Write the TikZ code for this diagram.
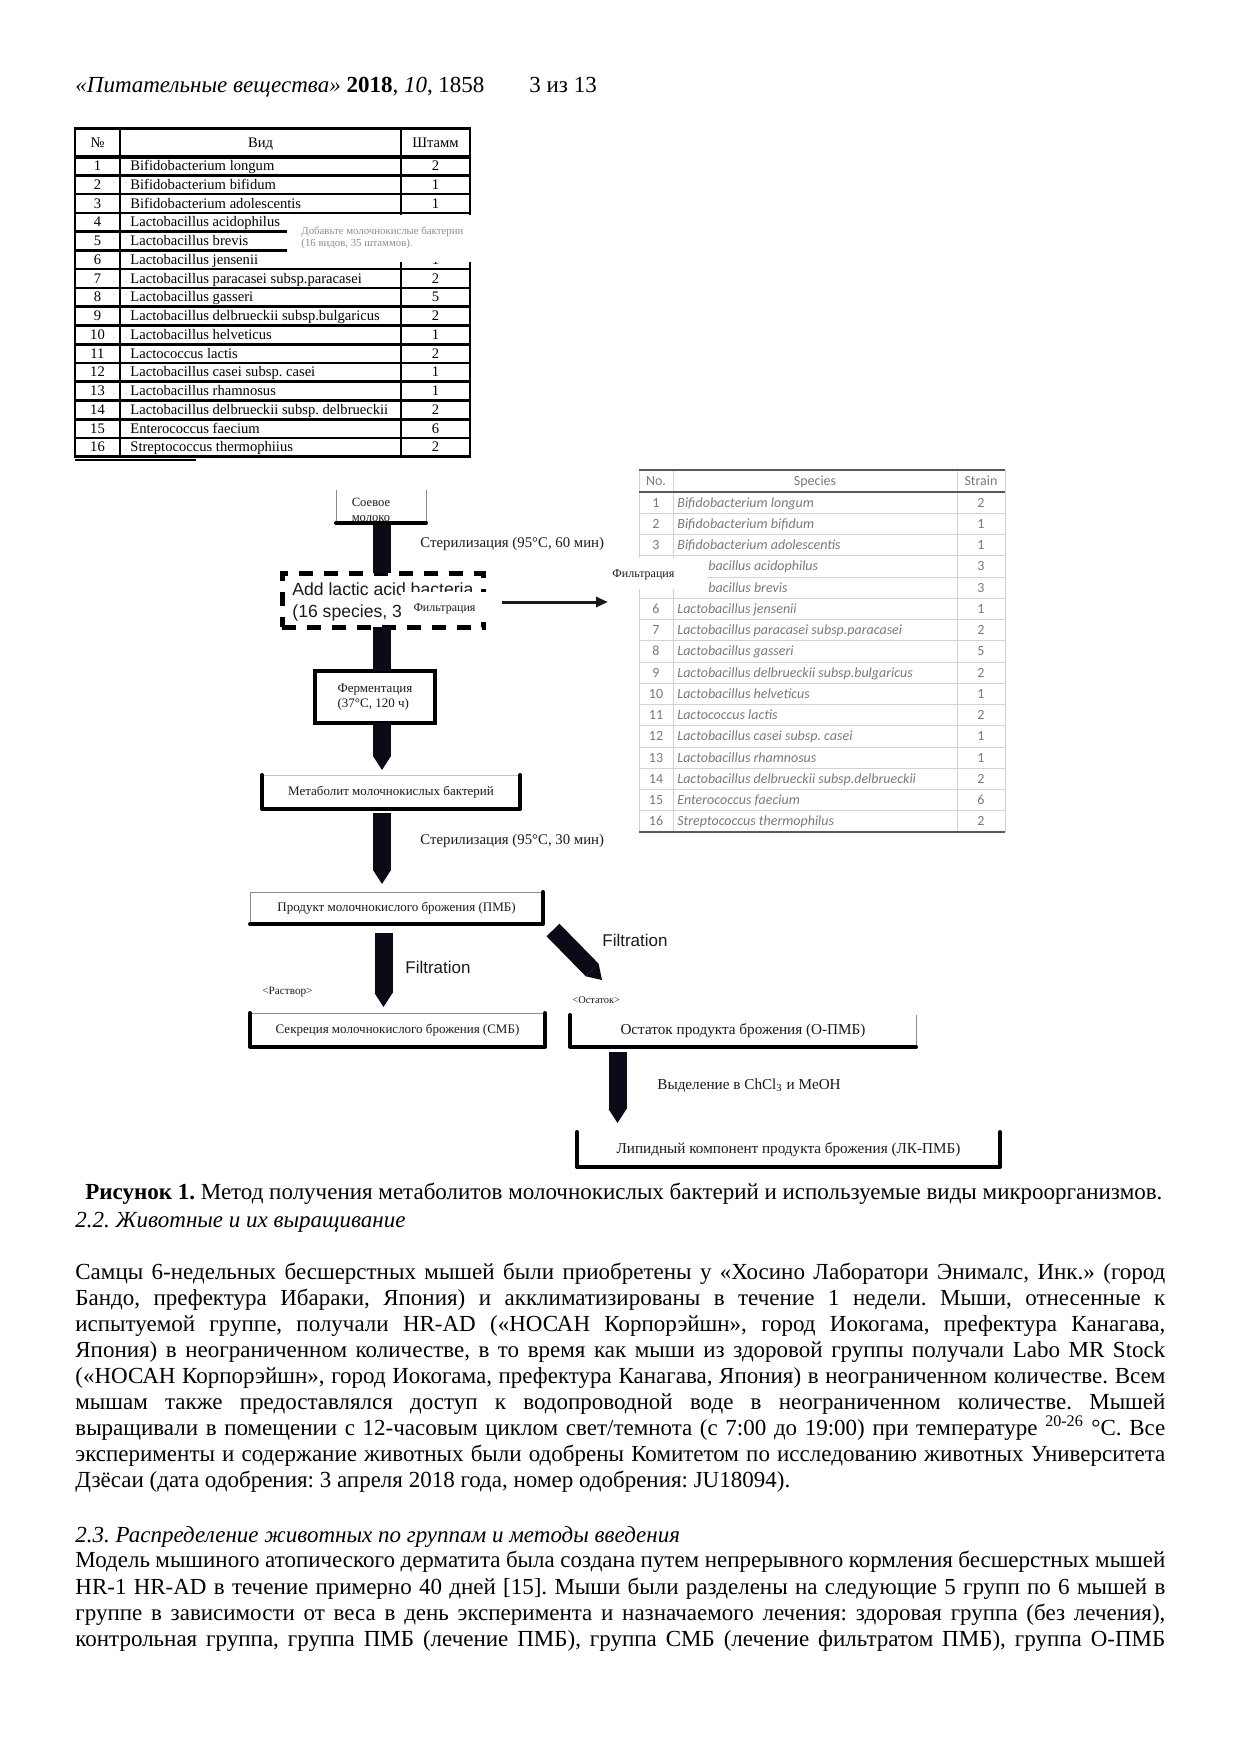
\documentclass[tikz,border=0pt]{standalone}
\usepackage{fontspec}
\setmainfont{Liberation Serif}
\setsansfont{Liberation Sans}
\newfontfamily\calibri{Carlito}
\usepackage{tikz}
\usetikzlibrary{arrows.meta,calc}
\definecolor{inkblk}{HTML}{1A1A1A}
\definecolor{shaftblk}{HTML}{0B0B18}
\definecolor{boxgrey}{HTML}{8A8A8A}
\definecolor{tblgrey}{HTML}{7A7A7A}
\definecolor{tblline}{HTML}{D2D2D2}
\definecolor{tbldark}{HTML}{5A5A5A}
\definecolor{fadetxt}{HTML}{8E8E8E}
\frenchspacing

\begin{document}
\begin{tikzpicture}[x=0.5pt,y=-0.5pt,
  hdtxt/.style={anchor=mid west, inner sep=0pt, font=\fontsize{11.5}{14}\selectfont},
  bodytxt/.style={anchor=mid west, inner sep=0pt, font=\fontsize{11.5}{13}\selectfont},
  cellt/.style={anchor=mid, inner sep=0pt, font=\fontsize{7.3}{8}\selectfont},
  cellr/.style={anchor=mid, inner sep=0pt, text=tblgrey, font=\calibri\fontsize{7}{8}\selectfont},
  tline/.style={line width=1.3pt},
  rline/.style={tblline, line width=0.5pt},
  rdark/.style={tbldark, line width=0.9pt},
  stagebox/.style={rectangle, inner sep=0pt, outer sep=0pt, text=inkblk, font=\fontsize{6.5}{7.5}\selectfont},
  bigbox/.style={stagebox, font=\fontsize{7.6}{9}\selectfont},
  thk/.style={line width=2pt, line cap=round, line join=round},
  thn/.style={line width=0.5pt, boxgrey},
  blk/.style={shaftblk, line width=9pt},
  blkarr/.style={shaftblk, line width=9pt, -{Triangle[length=7pt,width=9pt,line width=0pt]}},
  lbl/.style={anchor=mid west, inner sep=0pt, text=inkblk, font=\fontsize{7.4}{9}\selectfont},
  tinylbl/.style={anchor=mid west, inner sep=0pt, text=inkblk, font=\fontsize{5.6}{7}\selectfont},
  sanslbl/.style={anchor=mid west, inner sep=0pt, text=inkblk, font=\sffamily\fontsize{8.5}{10}\selectfont},
]
\useasboundingbox (0,0) rectangle (1242,1755);
\fill[white] (0,0) rectangle (1242,1755);

% running head
\node[hdtxt] (head) at (75,88) {\textit{«Питательные вещества»} \textbf{2018}, \textit{10}, 1858};
\node[hdtxt] (pg) at (529,88) {3 из 13};

% species table (Russian copy)
\draw[tline] (75,128.3) rectangle (470,456.7);
\foreach \r in {1,...,15}
  \draw[tline] (75,{156.7+\r*18.75}) -- (470,{156.7+\r*18.75});
\draw[line width=2pt] (75,156.7) -- (470,156.7);
\draw[tline] (120,128.3) -- (120,456.7);
\draw[tline] (401,128.3) -- (401,456.7);
\draw[line width=1pt] (75,459.5) -- (196,459.5);
\node[cellt] (thn) at (97.5,142.5) {№};
\node[cellt] (ths) at (260.5,142.5) {Вид};
\node[cellt] (thv) at (435.5,142.5) {Штамм};
\foreach \n/\sp/\st in {1/Bifidobacterium longum/2, 2/Bifidobacterium bifidum/1,
    3/Bifidobacterium adolescentis/1, 4/Lactobacillus acidophilus/{}, 5/Lactobacillus brevis/{},
    6/Lactobacillus jensenii/1, 7/Lactobacillus paracasei subsp.paracasei/2,
    8/Lactobacillus gasseri/5, 9/Lactobacillus delbrueckii subsp.bulgaricus/2,
    10/Lactobacillus helveticus/1, 11/Lactococcus lactis/2, 12/Lactobacillus casei subsp. casei/1,
    13/Lactobacillus rhamnosus/1, 14/Lactobacillus delbrueckii subsp. delbrueckii/2,
    15/Enterococcus faecium/6, 16/Streptococcus thermophiius/2}{
  \node[cellt] (tn\n) at (97.5,{156.7+(\n-0.5)*18.75}) {\n};
  \node[cellt, anchor=mid west] (ts\n) at (130,{156.7+(\n-0.5)*18.75}) {\sp};
  \node[cellt] (tv\n) at (435.5,{156.7+(\n-0.5)*18.75}) {\st};
}
% pasted note over rows 4-6
\fill[white] (287,215.5) rectangle (477,262);
\node[anchor=north west, inner sep=0pt, align=left, text=fadetxt,
  font=\fontsize{5.4}{6}\selectfont] (tnote) at (301,226) {Добавьте молочнокислые бактерии\\(16 видов, 35 штаммов).};

% species table (original)
\foreach \r in {1,...,15}
  \draw[rline] (639,{492+\r*21.25}) -- (1005,{492+\r*21.25});
\foreach \xx in {639,673,957,1005}
  \draw[rline] (\xx,470) -- (\xx,832);
\draw[rdark] (639,470) -- (1005,470);
\draw[rdark, line width=1.3pt] (639,492) -- (1005,492);
\draw[rdark, line width=1.2pt] (639,832) -- (1005,832);
\node[cellr] (rhn) at (656,481) {No.};
\node[cellr] (rhs) at (815,481) {Species};
\node[cellr] (rhv) at (981,481) {Strain};
\foreach \n/\sp/\st in {1/Bifidobacterium longum/2, 2/Bifidobacterium bifidum/1,
    3/Bifidobacterium adolescentis/1, 6/Lactobacillus jensenii/1,
    7/Lactobacillus paracasei subsp.paracasei/2,
    8/Lactobacillus gasseri/5, 9/Lactobacillus delbrueckii subsp.bulgaricus/2,
    10/Lactobacillus helveticus/1, 11/Lactococcus lactis/2, 12/Lactobacillus casei subsp. casei/1,
    13/Lactobacillus rhamnosus/1, 14/Lactobacillus delbrueckii subsp.delbrueckii/2,
    15/Enterococcus faecium/6, 16/Streptococcus thermophilus/2}{
  \node[cellr] (rn\n) at (656,{492+(\n-0.5)*21.25}) {\n};
  \node[cellr, anchor=mid west] (rs\n) at (677,{492+(\n-0.5)*21.25}) {\itshape\sp};
  \node[cellr] (rv\n) at (981,{492+(\n-0.5)*21.25}) {\st};
}
% rows 4 and 5, partly under the pasted label
\node[cellr, anchor=mid west] (rs4) at (708,566.4) {\itshape bacillus acidophilus};
\node[cellr, anchor=mid west] (rs5) at (708,587.6) {\itshape bacillus brevis};
\node[cellr] (rv4) at (981,566.4) {3};
\node[cellr] (rv5) at (981,587.6) {3};
\fill[white] (605,558) rectangle (707,589);
\node[tinylbl, font=\fontsize{6}{7}\selectfont] (filtb) at (612,573) {Фильтрация};

% flow chart
\coordinate (ax) at (382,0);
\coordinate (bx) at (617.5,0);
\coordinate (dgA) at (553,930);
\coordinate (dgB) at (602,980);
\coordinate (tblin) at (608,602);

\node[stagebox, minimum width=45pt, minimum height=16.5pt] (soy) at (381,506.5) {};
\node[stagebox, draw, line width=2.5pt, dash pattern=on 7pt off 5.5pt,
  minimum width=100.5pt, minimum height=27pt] (addbox) at (382.5,600) {};
\node[stagebox, draw, line width=2pt, minimum width=60pt, minimum height=26pt, align=left] (ferm) at (375,697) {Ферментация\\(37°C, 120 ч)};
\node[stagebox, minimum width=129pt, minimum height=17pt] (metab) at (391,792) {Метаболит молочнокислых бактерий};
\node[stagebox, minimum width=146.5pt, minimum height=16pt] (pmb) at (396.5,908) {Продукт молочнокислого брожения (ПМБ)};
\node[stagebox, minimum width=147.5pt, minimum height=17pt] (smb) at (397.5,1030) {Секреция молочнокислого брожения (СМБ)};
\node[bigbox, minimum width=173pt, minimum height=16pt] (opmb) at (743,1031) {Остаток продукта брожения (О-ПМБ)};
\node[bigbox, minimum width=211.5pt, minimum height=17.5pt] (lk) at (788.5,1149.5) {Липидный компонент продукта брожения (ЛК-ПМБ)};

% shafts
\draw[blk] (soy.south -| ax) -- (addbox.north -| ax);
\draw[blk] (addbox.south -| ax) -- (ferm.north -| ax);
\draw[blkarr] (ferm.south -| ax) -- ($(metab.north -| ax)+(0,-5)$);
\draw[blkarr] ($(metab.south -| ax)+(0,4)$) -- ($(pmb.north -| ax)+(0,-8)$);
\draw[blkarr] ($(pmb.south -| ax)+(1.5,9)$) -- ($(smb.north -| ax)+(1.5,-6)$);
\draw[blkarr] (dgA) -- (dgB);
\draw[blkarr] ($(opmb.south -| bx)+(0,5)$) -- ($(lk.north -| bx)+(0,-9)$);
\draw[inkblk, line width=1.5pt, -{Triangle[length=6pt,width=5pt]}] ($(addbox.east)+(19,2)$) -- (tblin);

% box edges
\node[stagebox, align=center, font=\fontsize{6.3}{7.5}\selectfont] (soytxt) at (371,509.5) {Соевое\\молоко};
\draw[thn] (soy.north west) -- (soy.south west);
\draw[thn] (soy.north east) -- (soy.south east);
\draw[thk] (soy.south west) -- (soy.south east);
\draw[thn, boxgrey!50] (metab.north west) -- (metab.north east);
\draw[thk] (metab.north west) -- (metab.south west) -- (metab.south east) -- (metab.north east);
\draw[thn] (pmb.south west) -- (pmb.north west) -- (pmb.north east);
\draw[thk] (pmb.north east) -- (pmb.south east) -- (pmb.south west);
\draw[thn] (smb.north west) -- (smb.north east);
\draw[thk] (smb.north west) -- (smb.south west) -- (smb.south east) -- (smb.north east);
\draw[thn] (opmb.north east) -- (opmb.south east);
\draw[thk] (opmb.north west) -- (opmb.south west) -- (opmb.south east);
\draw[thk] (lk.north west) -- (lk.south west) -- (lk.south east) -- (lk.north east);

% dashed box text and pasted label
\node[sanslbl, font=\sffamily\fontsize{8.8}{10}\selectfont] (add1) at (292,591) {Add lactic acid bacteria};
\node[sanslbl, font=\sffamily\fontsize{8.8}{10}\selectfont] (add2) at (292,613) {(16 species, 3};
\fill[white] (401,592) rectangle (487,622);
\node[stagebox, font=\fontsize{6}{7}\selectfont] (filta) at (444.5,609) {Фильтрация};

% step labels
\node[lbl] (ster1) at (420,543) {Стерилизация (95°C, 60 мин)};
\node[lbl] (ster2) at (420,840) {Стерилизация (95°C, 30 мин)};
\node[sanslbl] (filt1) at (405,969) {Filtration};
\node[sanslbl] (filt2) at (602,942) {Filtration};
\node[tinylbl] (rast) at (262,990) {<Раствор>};
\node[tinylbl, font=\fontsize{5.2}{6}\selectfont] (ost) at (572,999) {<Остаток>};
\node[lbl, font=\fontsize{7.6}{9}\selectfont] (vydel) at (657,1085) {Выделение в ChCl\textsubscript{3} и MeOH};

% caption and running text
\node[bodytxt] (cap) at (85,1195) {\textbf{Рисунок 1.} Метод получения метаболитов молочнокислых бактерий и используемые виды микроорганизмов.};
\node[bodytxt] (sec22) at (75,1223) {\textit{2.2. Животные и их выращивание}};
\node[bodytxt] (p1a) at (75,1275) {\makebox[545pt][s]{Самцы 6-недельных бесшерстных мышей были приобретены у «Хосино Лаборатори Энималс, Инк.» (город}};
\node[bodytxt] (p1b) at (75,1301) {\makebox[545pt][s]{Бандо, префектура Ибараки, Япония) и акклиматизированы в течение 1 недели. Мыши, отнесенные к}};
\node[bodytxt] (p1c) at (75,1327) {\makebox[545pt][s]{испытуемой группе, получали HR-AD («НОСАН Корпорэйшн», город Иокогама, префектура Канагава,}};
\node[bodytxt] (p1d) at (75,1353) {\makebox[545pt][s]{Япония) в неограниченном количестве, в то время как мыши из здоровой группы получали Labo MR Stock}};
\node[bodytxt] (p1e) at (75,1379) {\makebox[545pt][s]{(«НОСАН Корпорэйшн», город Иокогама, префектура Канагава, Япония) в неограниченном количестве. Всем}};
\node[bodytxt] (p1f) at (75,1405) {\makebox[545pt][s]{мышам также предоставлялся доступ к водопроводной воде в неограниченном количестве. Мышей}};
\node[bodytxt] (p1g) at (75,1431) {\makebox[545pt][s]{выращивали в помещении с 12-часовым циклом свет/темнота (с 7:00 до 19:00) при температуре \textsuperscript{20-26} °С. Все}};
\node[bodytxt] (p1h) at (75,1457) {\makebox[545pt][s]{эксперименты и содержание животных были одобрены Комитетом по исследованию животных Университета}};
\node[bodytxt] (p1i) at (75,1483) {Дзёсаи (дата одобрения: 3 апреля 2018 года, номер одобрения: JU18094).};
\node[bodytxt] (sec23) at (75,1538) {\textit{2.3. Распределение животных по группам и методы введения}};
\node[bodytxt] (p2a) at (75,1563) {\makebox[545pt][s]{Модель мышиного атопического дерматита была создана путем непрерывного кормления бесшерстных мышей}};
\node[bodytxt] (p2b) at (75,1590) {\makebox[545pt][s]{HR-1 HR-AD в течение примерно 40 дней [15]. Мыши были разделены на следующие 5 групп по 6 мышей в}};
\node[bodytxt] (p2c) at (75,1616) {\makebox[545pt][s]{группе в зависимости от веса в день эксперимента и назначаемого лечения: здоровая группа (без лечения),}};
\node[bodytxt] (p2d) at (75,1642) {\makebox[545pt][s]{контрольная группа, группа ПМБ (лечение ПМБ), группа СМБ (лечение фильтратом ПМБ), группа О-ПМБ}};
\end{tikzpicture}
\end{document}
